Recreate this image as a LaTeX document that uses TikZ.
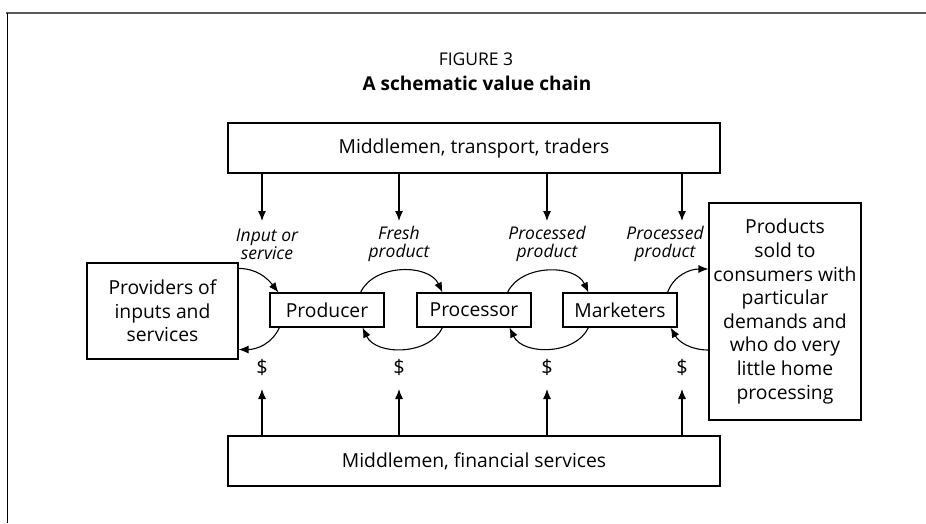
\documentclass[tikz,border=0pt]{standalone}
\usepackage{fontspec}
\setmainfont{Open Sans}
\usetikzlibrary{calc,arrows.meta}

\begin{document}
\begin{tikzpicture}[x=1pt, y=1pt, >={Latex[length=10pt,width=8pt]},
  box/.style={draw, line width=1.1pt, inner sep=0pt, align=center, font=\fontsize{19.3}{23.6}\selectfont},
  flow/.style={inner sep=0pt, align=center, font=\fontsize{17.5}{18}\selectfont\itshape},
  cash/.style={inner sep=0pt, font=\fontsize{20}{23.6}\selectfont}]
\useasboundingbox (0, 0) rectangle (926, 523);
\draw [line width=2pt, color=black!65] (6, 510) -- (926, 510);
\draw [line width=1pt, black] (7, 510) -- (7, 0);

\node [font=\fontsize{17.5}{20}\selectfont] (fig) at (476, 464) {FIGURE 3};
\node [font=\fontsize{19}{20}\selectfont\bfseries] (title) at (477, 440) {A schematic value chain};

\node [box, minimum width=492pt, minimum height=50pt] (trans) at (474, 375) {Middlemen, transport, traders};
\node [box, minimum width=492pt, minimum height=50pt] (fin) at (474, 62) {Middlemen, financial services};

\node [box, minimum width=151pt, minimum height=96pt] (prov) at (162.5, 212) {Providers of\\inputs and\\services};
\node [box, minimum width=114pt, minimum height=34pt] (prod) at (327, 213) {Producer};
\node [box, minimum width=114pt, minimum height=34pt] (proc) at (474, 213) {Processor};
\node [box, minimum width=114pt, minimum height=34pt] (mark) at (620, 213) {Marketers};
\node [box, minimum width=152pt, minimum height=217pt] (cons) at (785, 211.5) {Products\\sold to\\consumers with\\particular\\demands and\\who do very\\little home\\processing};

% goods coming down
\coordinate (in1) at (262, 302);
\coordinate (in2) at (399, 302);
\coordinate (in3) at (547, 302);
\coordinate (in4) at (682, 302);
\draw [->, line width=1.1pt, black] (trans.south -| in1) -- (in1);
\draw [->, line width=1.1pt, black] (trans.south -| in2) -- (in2);
\draw [->, line width=1.1pt, black] (trans.south -| in3) -- (in3);
\draw [->, line width=1.1pt, black] (trans.south -| in4) -- (in4);

\node [flow] (inp) at (267, 279) {Input or\\service};
\node [flow] (fresh) at (399, 279) {Fresh\\product};
\node [flow] (pro1) at (547, 279) {Processed\\product};
\node [flow] (pro2) at (665, 279) {Processed\\product};

% money coming up
\coordinate (up1) at (262, 134);
\coordinate (up2) at (399, 134);
\coordinate (up3) at (547, 134);
\coordinate (up4) at (682, 134);
\draw [->, line width=1.1pt, black] (fin.north -| up1) -- (up1);
\draw [->, line width=1.1pt, black] (fin.north -| up2) -- (up2);
\draw [->, line width=1.1pt, black] (fin.north -| up3) -- (up3);
\draw [->, line width=1.1pt, black] (fin.north -| up4) -- (up4);

\node [cash] (d1) at (262, 156) {\$};
\node [cash] (d2) at (399, 156) {\$};
\node [cash] (d3) at (547, 156) {\$};
\node [cash] (d4) at (682, 156) {\$};

% product flow over the top
\draw [->, line width=1.1pt, black] ($(prov.north east)+(0,-6)$) to [out=0, in=128] ($(prod.north west)+(9,0)$);
\draw [->, line width=1.1pt, black] ($(prod.north east)+(-24,0)$) to [out=65, in=115] ($(proc.north west)+(26,0)$);
\draw [->, line width=1.1pt, black] ($(proc.north east)+(-24,0)$) to [out=65, in=115] ($(mark.north west)+(26,0)$);
\draw [->, line width=1.1pt, black] ($(mark.north east)+(-10,0)$) to [out=70, in=180] ($(cons.west)+(0,42.5)$);

% payments under the bottom
\draw [->, line width=1.1pt, black] ($(prod.south west)+(10,0)$) to [out=-115, in=0] ($(prov.south east)+(0,10)$);
\draw [->, line width=1.1pt, black] ($(proc.south west)+(26,0)$) to [out=-115, in=-65] ($(prod.south east)+(-22,0)$);
\draw [->, line width=1.1pt, black] ($(mark.south west)+(26,0)$) to [out=-115, in=-65] ($(proc.south east)+(-22,0)$);
\draw [->, line width=1.1pt, black] ($(cons.west)+(0,-38.5)$) to [out=180, in=-60] ($(mark.south east)+(-7,0)$);
\end{tikzpicture}
\end{document}
